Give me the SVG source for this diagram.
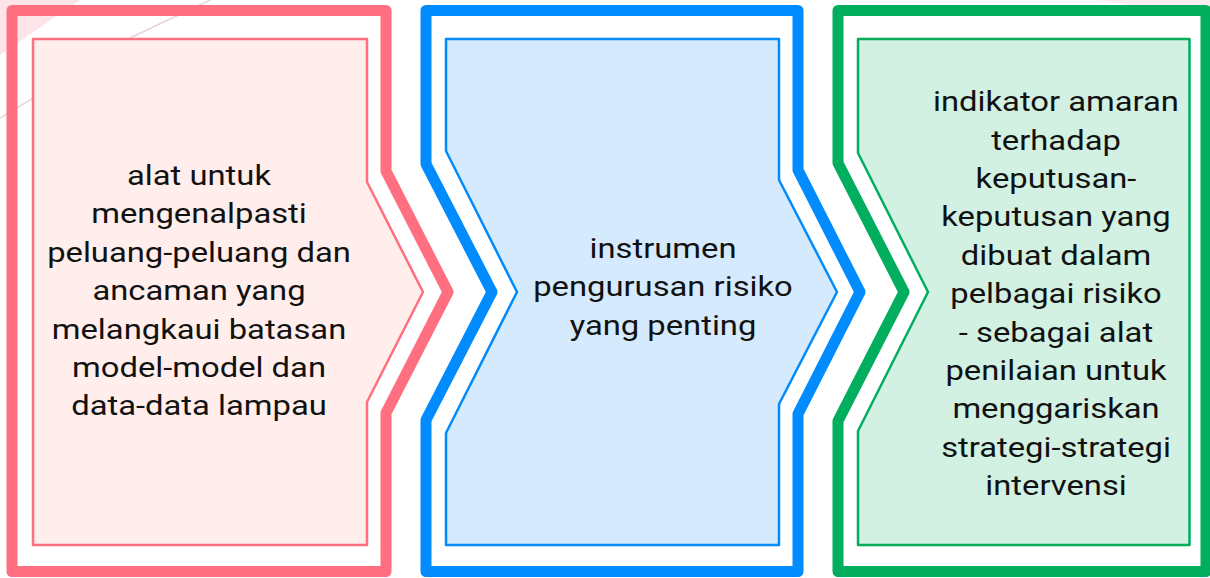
<svg xmlns="http://www.w3.org/2000/svg" width="1210" height="578" viewBox="0 0 1210 578">
  <style>
    .outer { fill: none; stroke-width: 11; stroke-linejoin: round; }
    .inner { stroke-width: 2.5; stroke-linejoin: round; }
    .lbl { font-family: Roboto, "Liberation Sans", sans-serif; font-size: 28px; fill: #111111; text-anchor: middle; }
    .deco { fill: none; stroke: #e9d3d8; stroke-width: 1.5; }
  </style>
  <rect x="0" y="0" width="1210" height="578" fill="#ffffff"/>
  <g id="background">
    <polygon points="0,0 80,0 0,55" fill="#fbdde3" opacity="0.8"/>
    <line class="deco" x1="0" y1="118" x2="40" y2="94"/>
    <line class="deco" x1="130" y1="38" x2="210" y2="0"/>
    <polygon points="1100,0 1210,0 1210,12 1150,8" fill="#f6e6ea" opacity="0.7"/>
  </g>
  <g id="step1">
    <path class="outer" stroke="#ff6f7f" d="M12,10.5 H386 V171 L448,292 L386,413 V571.5 H12 Z"/>
    <path class="inner" fill="#ffeeeb" stroke="#ff6f7f" d="M33,39 H367 V182 L423,292 L367,402 V545 H33 Z"/>
    <g transform="translate(199,0) scale(1.17,1)">
      <text class="lbl" x="0" y="185">alat untuk</text>
      <text class="lbl" x="0" y="223.4">mengenalpasti</text>
      <text class="lbl" x="0" y="261.8">peluang-peluang dan</text>
      <text class="lbl" x="0" y="300.2">ancaman yang</text>
      <text class="lbl" x="0" y="338.6">melangkaui batasan</text>
      <text class="lbl" x="0" y="377">model-model dan</text>
      <text class="lbl" x="0" y="415.4">data-data lampau</text>
    </g>
  </g>
  <g id="step2">
    <path class="outer" stroke="#008cff" d="M426,10.5 H798 V170 L860,292 L798,414 V571.5 H426 V420 L492,292 L426,164 Z"/>
    <path class="inner" fill="#d6eafd" stroke="#008cff" d="M446,39 H779 V180 L837,292 L779,404 V545 H446 V433 L517,292 L446,151 Z"/>
    <g transform="translate(663,0) scale(1.17,1)">
      <text class="lbl" x="0" y="258">instrumen</text>
      <text class="lbl" x="0" y="296.4">pengurusan risiko</text>
      <text class="lbl" x="0" y="334.8">yang penting</text>
    </g>
  </g>
  <g id="step3">
    <path class="outer" stroke="#00ae5e" d="M838,10.5 H1206 V571.5 H838 V421 L904,292 L838,163 Z"/>
    <path class="inner" fill="#d2f1e3" stroke="#00ae5e" d="M858,39 H1189.5 V545 H858 V431 L928,292 L858,153 Z"/>
    <g transform="translate(1056,0) scale(1.17,1)">
      <text class="lbl" x="0" y="111.3">indikator amaran</text>
      <text class="lbl" x="0" y="149.7">terhadap</text>
      <text class="lbl" x="0" y="188.1">keputusan-</text>
      <text class="lbl" x="0" y="226.5">keputusan yang</text>
      <text class="lbl" x="0" y="264.9">dibuat dalam</text>
      <text class="lbl" x="0" y="303.3">pelbagai risiko</text>
      <text class="lbl" x="0" y="341.7">- sebagai alat</text>
      <text class="lbl" x="0" y="380.1">penilaian untuk</text>
      <text class="lbl" x="0" y="418.5">menggariskan</text>
      <text class="lbl" x="0" y="456.9">strategi-strategi</text>
      <text class="lbl" x="0" y="495.3">intervensi</text>
    </g>
  </g>
  <g id="connectors"></g>
</svg>
